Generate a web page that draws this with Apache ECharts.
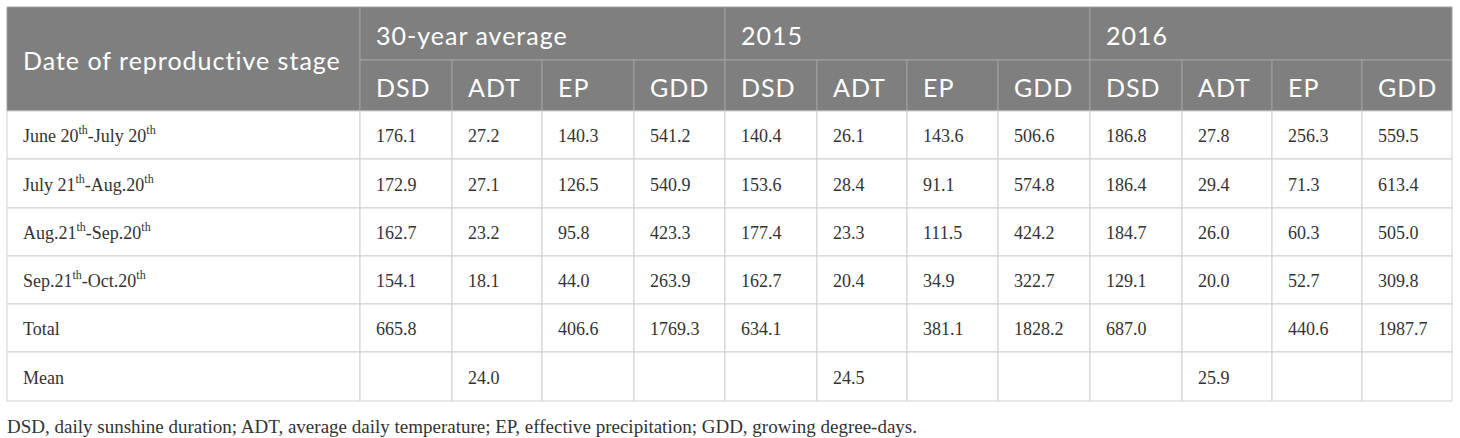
<!DOCTYPE html>
<html>
<head>
<meta charset="utf-8">
<script src="https://cdn.jsdelivr.net/npm/echarts@6/dist/echarts.min.js"></script>
<style>
  html, body { margin: 0; padding: 0; background: #fff; }
  #chart { width: 1460px; height: 438px; }
  /* header font is tracked a little wider than plain Lato */
  #chart text[style*="Lato"] { letter-spacing: 1px; }
</style>
</head>
<body>
<div id="chart"></div>
<script>
// table content
const stageRows = ['June 20th-July 20th', 'July 21th-Aug.20th', 'Aug.21th-Sep.20th', 'Sep.21th-Oct.20th'];
const summaryRows = ['Total', 'Mean'];
const cornerLabel = 'Date of reproductive stage';
const groups = ['30-year average', '2015', '2016'];
const metrics = ['DSD', 'ADT', 'EP', 'GDD'];

// rows = stages, columns = DSD, ADT, EP, GDD
const avg30Values = [
  [176.1, 27.2, 140.3, 541.2],
  [172.9, 27.1, 126.5, 540.9],
  [162.7, 23.2, 95.8, 423.3],
  [154.1, 18.1, 44.0, 263.9]
];
const y2015Values = [
  [140.4, 26.1, 143.6, 506.6],
  [153.6, 28.4, 91.1, 574.8],
  [177.4, 23.3, 111.5, 424.2],
  [162.7, 20.4, 34.9, 322.7]
];
const y2016Values = [
  [186.8, 27.8, 256.3, 559.5],
  [186.4, 29.4, 71.3, 613.4],
  [184.7, 26.0, 60.3, 505.0],
  [129.1, 20.0, 52.7, 309.8]
];
// one row per group
const totalValues = [
  [665.8, null, 406.6, 1769.3],
  [634.1, null, 381.1, 1828.2],
  [687.0, null, 440.6, 1987.7]
];
const meanValues = [
  [null, 24.0, null, null],
  [null, 24.5, null, null],
  [null, 25.9, null, null]
];
const footnote = 'DSD, daily sunshine duration; ADT, average daily temperature; EP, effective precipitation; GDD, growing degree-days.';

// layout (column widths / row heights in axis units)
const colWidths = [353, 92, 90, 92, 91, 92, 90, 91, 92, 92, 90, 90, 90];
const rowHeights = [53, 51, 48, 49, 48, 48, 48, 49];

const edges = arr => arr.reduce((acc, w) => { acc.push(acc[acc.length - 1] + w); return acc; }, [0]);
const xEdges = edges(colWidths);
const yEdges = edges(rowHeights);

const fmt = v => (v === null || v === undefined) ? '' : v.toFixed(1);
const sup = s => s.replace(/(\d)th/g, '$1{s|th}');

// build the cells
const cells = [];
const addCell = (c0, c1, r0, r1, text, head) => cells.push({ c0, c1, r0, r1, text, head });

addCell(0, 0, 0, 1, cornerLabel, true);
groups.forEach((g, gi) => {
  addCell(1 + gi * 4, 4 + gi * 4, 0, 0, g, true);
  metrics.forEach((m, mi) => addCell(1 + gi * 4 + mi, 1 + gi * 4 + mi, 1, 1, m, true));
});

const groupValues = [avg30Values, y2015Values, y2016Values];
stageRows.forEach((label, ri) => {
  addCell(0, 0, 2 + ri, 2 + ri, sup(label), false);
  groupValues.forEach((vals, gi) => {
    vals[ri].forEach((v, mi) => addCell(1 + gi * 4 + mi, 1 + gi * 4 + mi, 2 + ri, 2 + ri, fmt(v), false));
  });
});
[totalValues, meanValues].forEach((rows, si) => {
  const r = 2 + stageRows.length + si;
  addCell(0, 0, r, r, summaryRows[si], false);
  rows.forEach((vals, gi) => {
    vals.forEach((v, mi) => addCell(1 + gi * 4 + mi, 1 + gi * 4 + mi, r, r, fmt(v), false));
  });
});

const cellData = cells.map(c => [xEdges[c.c0], xEdges[c.c1 + 1], yEdges[c.r0], yEdges[c.r1 + 1]]);

const chart = echarts.init(document.getElementById('chart'), null, { renderer: 'svg' });

chart.setOption({
  backgroundColor: '#ffffff',
  animation: false,
  title: {
    text: footnote,
    left: 2,
    top: 412,
    textStyle: {
      fontFamily: 'Liberation Serif',
      fontSize: 19,
      fontWeight: 'normal',
      color: '#333333'
    }
  },
  grid: { left: 7, top: 7, width: xEdges[xEdges.length - 1], height: yEdges[yEdges.length - 1] },
  xAxis: { type: 'value', min: 0, max: xEdges[xEdges.length - 1], show: false },
  yAxis: { type: 'value', min: 0, max: yEdges[yEdges.length - 1], inverse: true, show: false },
  series: [{
    type: 'custom',
    data: cellData,
    encode: { x: [0, 1], y: [2, 3] },
    renderItem: (params, api) => {
      const cell = cells[params.dataIndex];
      const p0 = api.coord([api.value(0), api.value(2)]);
      const p1 = api.coord([api.value(1), api.value(3)]);
      const head = cell.head;
      const textStyle = {
        text: cell.text,
        fill: head ? '#ffffff' : '#333333',
        fontFamily: head ? 'Lato' : 'Liberation Serif',
        fontSize: head ? 25 : 18,
        align: 'left',
        verticalAlign: 'middle',
        textAlign: 'left',
        textVerticalAlign: 'middle'
      };
      if (!head) {
        textStyle.lineHeight = 24;
        textStyle.rich = {
          s: { fontSize: 12, fontFamily: 'Liberation Serif', fill: '#333333', verticalAlign: 'top', lineHeight: 24 }
        };
      }
      return {
        type: 'group',
        children: [{
          type: 'rect',
          shape: { x: p0[0], y: p0[1], width: p1[0] - p0[0], height: p1[1] - p0[1] },
          style: { fill: head ? '#7e7f7e' : '#ffffff', stroke: head ? '#a0a0a0' : '#cfcfcf', lineWidth: 1 }
        }, {
          type: 'text',
          x: p0[0] + 16,
          y: (p0[1] + p1[1]) / 2 + 1,
          style: textStyle
        }]
      };
    }
  }]
});
</script>
</body>
</html>
